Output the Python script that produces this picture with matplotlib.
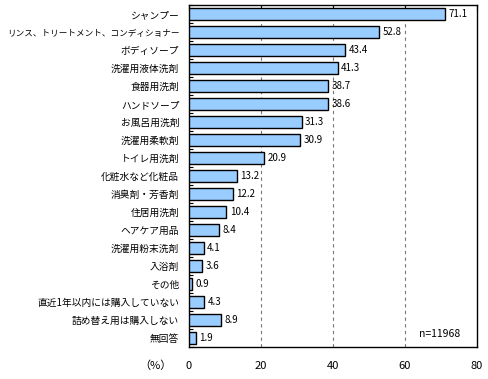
import numpy as np
import matplotlib
matplotlib.use("Agg")
import matplotlib.pyplot as plt
from matplotlib.ticker import FixedLocator

plt.rcParams['font.family'] = ['Noto Sans CJK JP', 'DejaVu Sans']

# ---- data ----
categories = [
    'シャンプー', 'リンス、トリートメント、コンディショナー', 'ボディソープ',
    '洗濯用液体洗剤', '食器用洗剤', 'ハンドソープ', 'お風呂用洗剤',
    '洗濯用柔軟剤', 'トイレ用洗剤', '化粧水など化粧品', '消臭剤・芳香剤',
    '住居用洗剤', 'ヘアケア用品', '洗濯用粉末洗剤', '入浴剤', 'その他',
    '直近1年以内には購入していない', '詰め替え用は購入しない', '無回答',
]
values = [71.1, 52.8, 43.4, 41.3, 38.7, 38.6, 31.3, 30.9, 20.9, 13.2,
          12.2, 10.4, 8.4, 4.1, 3.6, 0.9, 4.3, 8.9, 1.9]
xticks = [0, 20, 40, 60, 80]
note = 'n=11968'

fig = plt.figure(figsize=(4.89, 3.79), dpi=100)
ax = fig.add_axes([0.3865, 0.0844, 0.589, 0.9024])

y = np.arange(len(categories))
ax.barh(y, values, height=0.62, color='#99CCFF', edgecolor='black',
        linewidth=1.0, zorder=3)

for yi, v in zip(y, values):
    ax.text(v + 0.9, yi, f'{v:.1f}', va='center', ha='left', fontsize=7,
            zorder=4)

ax.set_xlim(0, 80)
ax.set_ylim(len(categories) - 0.5, -0.5)
ax.set_xticks(xticks)
ax.set_xticklabels([str(t) for t in xticks], fontsize=8)
ax.set_yticks(y)
ax.set_yticklabels(categories, fontsize=7)
# the long label is squeezed a little so it fits the left margin
ax.get_yticklabels()[1].set_fontsize(6.2)
ax.tick_params(axis='y', which='major', length=0, pad=7)
ax.yaxis.set_minor_locator(FixedLocator(np.arange(len(categories) + 1) - 0.5))
ax.tick_params(axis='y', which='minor', direction='in', length=3, width=0.8)
ax.tick_params(axis='x', which='major', direction='in', length=4,
               bottom=False, top=True, pad=10)

for gx in xticks[1:-1]:
    ax.axvline(gx, color='#777777', linestyle=(0, (3, 3)), linewidth=0.8,
               zorder=1)

for sp in ax.spines.values():
    sp.set_linewidth(1.0)

ax.text(64, 17.8, note, fontsize=7.5, ha='left', va='center')
fig.text(155 / 489, 1 - 366 / 379, '（%）', fontsize=8, ha='center',
         va='center')

plt.savefig('out.png', dpi=100)
